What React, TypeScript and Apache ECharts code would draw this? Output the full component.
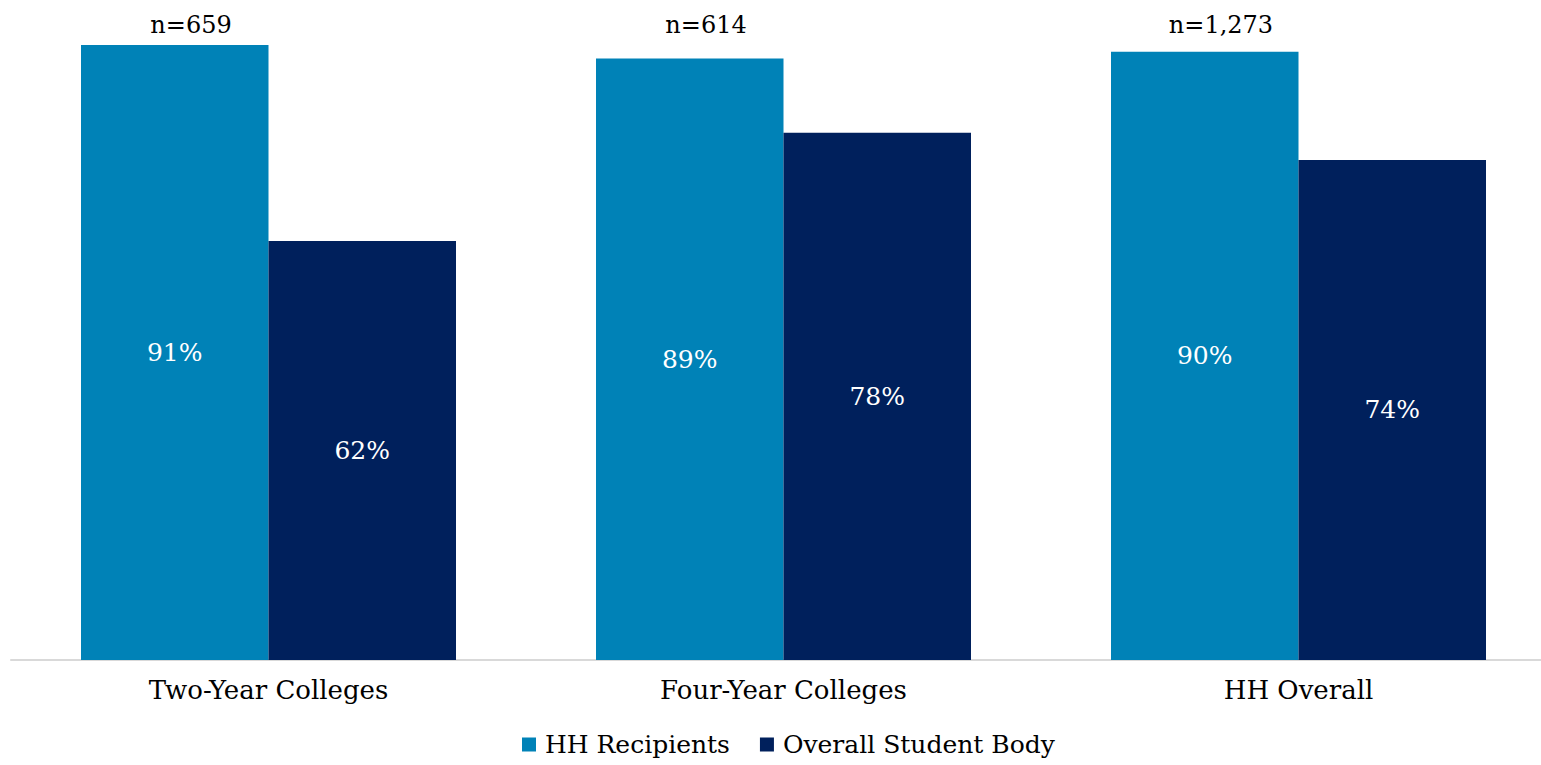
import React, { useEffect, useRef } from "react";
import * as echarts from "echarts";

const categories = ["Two-Year Colleges", "Four-Year Colleges", "HH Overall"];
const nLabels = ["n=659", "n=614", "n=1,273"];
const hhRecipients = [91, 89, 90];
const overallStudentBody = [62, 78, 74];
const seriesNames = ["HH Recipients", "Overall Student Body"];

const FONT = "DejaVu Serif";

export default function App() {
  const ref = useRef<HTMLDivElement>(null);
  useEffect(() => {
    if (!ref.current) return;
    const chart = echarts.init(ref.current, null, { renderer: "svg" });
    chart.setOption({
      animation: false,
      textStyle: { fontFamily: FONT },
      grid: { left: 11, top: 45, width: 1545, bottom: 105, containLabel: false },
      legend: {
        bottom: 3,
        left: 517,
        icon: "rect",
        itemWidth: 14,
        itemHeight: 14,
        itemGap: 30,
        textStyle: { fontFamily: FONT, fontSize: 25, color: "#000", padding: [0, 0, 0, 4] },
        data: seriesNames,
      },
      xAxis: [
        {
          type: "category",
          data: categories,
          axisLine: { lineStyle: { color: "#d9d9d9", width: 2 } },
          axisTick: { show: false },
          axisLabel: { fontFamily: FONT, fontSize: 26, color: "#000", margin: 17 },
        },
        {
          type: "category",
          position: "top",
          data: nLabels,
          axisLine: { show: false },
          axisTick: { show: false },
          axisLabel: {
            fontFamily: FONT,
            fontSize: 24,
            color: "#000",
            margin: 8,
            padding: [0, 155, 0, 0],
          },
        },
      ],
      yAxis: { type: "value", min: 0, max: 91, show: false, splitLine: { show: false } },
      series: [
        {
          name: seriesNames[0],
          type: "bar",
          data: hhRecipients,
          barWidth: 187.5,
          barGap: "0%",
          itemStyle: { color: "#0082b7" },
          label: {
            show: true,
            position: "inside",
            color: "#fff",
            fontFamily: FONT,
            fontSize: 25,
            formatter: "{c}%",
          },
        },
        {
          name: seriesNames[1],
          type: "bar",
          data: overallStudentBody,
          barWidth: 187.5,
          barGap: "0%",
          itemStyle: { color: "#00205c" },
          label: {
            show: true,
            position: "inside",
            color: "#fff",
            fontFamily: FONT,
            fontSize: 25,
            formatter: "{c}%",
          },
        },
      ],
    });
    return () => chart.dispose();
  }, []);
  return (
    <div
      style={{
        position: "fixed",
        left: 0,
        top: 0,
        width: 1541,
        height: 765,
        overflow: "hidden",
        background: "#fff",
      }}
    >
      <div ref={ref} style={{ width: 1560, height: 765 }} />
    </div>
  );
}
